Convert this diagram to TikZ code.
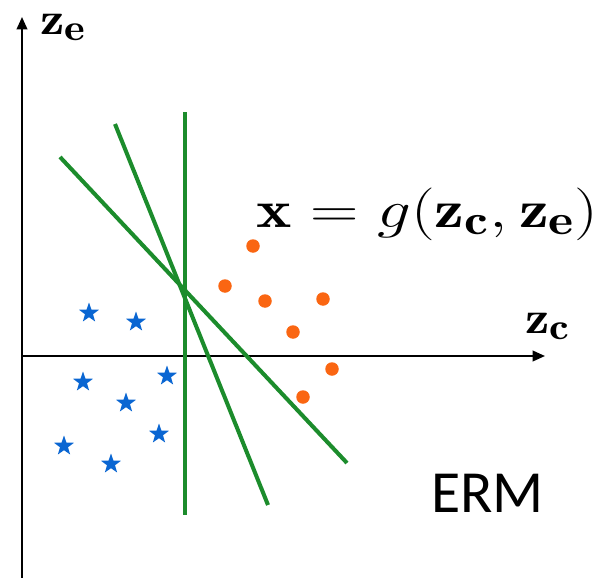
\RequirePackage{fix-cm}
\documentclass[tikz,border=0pt]{standalone}
\usepackage{amsmath,amssymb}
\usepackage{fontspec}
\newfontfamily\calibri{Carlito}
\usepackage{xcolor}
\usetikzlibrary{arrows.meta,shapes.geometric}

\DeclareMathSizes{26}{26}{21}{16}
\DeclareMathSizes{30}{30}{24}{18}

\definecolor{ermgreen}{RGB}{28,140,44}
\definecolor{dotorange}{RGB}{250,102,18}
\definecolor{starblue}{RGB}{10,102,210}

\begin{document}
\begin{tikzpicture}[x=0.02cm, y=-0.02cm,
    axis/.style={line width=1.1pt, -{Triangle[length=7pt,width=6pt]}},
    boundary/.style={ermgreen, line width=2.3pt},
    dot/.style={circle, fill=dotorange, inner sep=0pt, minimum size=0.27cm},
    starpt/.style={star, star points=5, star point ratio=2.5, fill=starblue, inner sep=0pt, minimum size=0.42cm},
    lbl/.style={inner sep=0pt, anchor=base west, xscale=1.2, font=\fontsize{26}{30}\selectfont}]
    \useasboundingbox (0,0) rectangle (595,578);

    % Axes
    \coordinate (ybot) at (22,578);
    \coordinate (ytop) at (22,17);
    \coordinate (xleft) at (22,356);
    \coordinate (xright) at (545,356);
    \draw[axis] (ybot) -- (ytop);
    \draw[axis] (xleft) -- (xright);
    \node[lbl] (ze) at (40,34) {$\mathbf{z}_{\mathbf{e}}$};
    \node[lbl] (zc) at (525,333) {$\mathbf{z}_{\mathbf{c}}$};

    % Decision boundaries
    \coordinate (v1) at (185,112);
    \coordinate (v2) at (185,515);
    \coordinate (s1) at (115,124);
    \coordinate (s2) at (268,505);
    \coordinate (f1) at (60,157);
    \coordinate (f2) at (347,463);
    \draw[boundary] (v1) -- (v2);
    \draw[boundary] (s1) -- (s2);
    \draw[boundary] (f1) -- (f2);

    % Class samples
    \foreach \px/\py [count=\i] in {253/246, 225/286, 265/301, 323/299, 293/332, 332/369, 303/397}
        \node[dot] (o\i) at (\px,\py) {};
    \foreach \px/\py [count=\i] in {89/313, 136/322, 83/382, 167/376, 126/403, 159/434, 64/446, 111/464}
        \node[starpt] (s\i) at (\px,\py) {};

    % Text
    \node[lbl, xscale=1.06, font=\fontsize{30}{36}\selectfont] (gen) at (256,227) {$\mathbf{x} = g(\mathbf{z}_{\mathbf{c}}, \mathbf{z}_{\mathbf{e}})$};
    \node[anchor=base west, inner sep=0pt, font=\calibri\fontsize{34}{40}\selectfont] (erm) at (431,512) {ERM};
\end{tikzpicture}
\end{document}
